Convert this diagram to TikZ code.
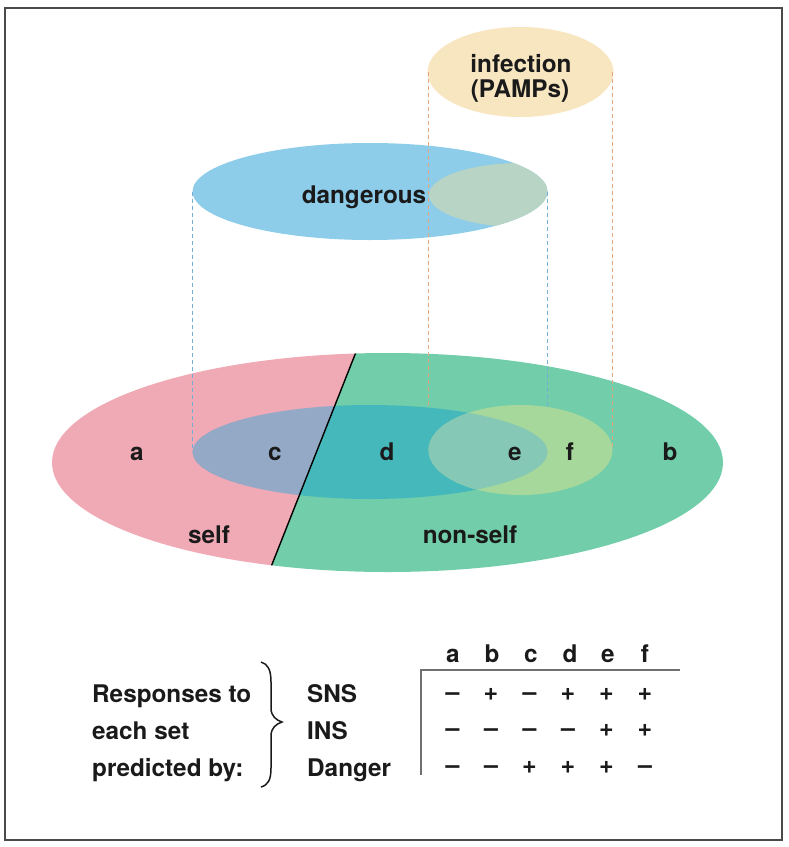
\documentclass[tikz,border=0pt]{standalone}
\usepackage{fontspec}
\setmainfont{TeX Gyre Heros}
\definecolor{framec}{HTML}{4A4A4A}
\definecolor{txt}{HTML}{1A1A1A}
\definecolor{infc}{HTML}{F8E6C0}
\definecolor{dangc}{HTML}{8DCDEA}
\definecolor{ovc}{HTML}{B7D4C4}
\definecolor{pinkc}{HTML}{F0AAB6}
\definecolor{greenc}{HTML}{72CDAA}
\definecolor{bluepink}{HTML}{93A9C6}
\definecolor{bluegreen}{HTML}{45B8BC}
\definecolor{yellowc}{HTML}{A6D79B}
\definecolor{yelblue}{HTML}{86C8B6}
\definecolor{dashblue}{HTML}{74AED3}
\definecolor{dashorange}{HTML}{E3A57E}
\definecolor{tabc}{HTML}{707070}
\begin{document}
\begin{tikzpicture}[x=1pt,y=-1pt,
  lbl/.style={font=\fontsize{24.3}{28}\selectfont\bfseries, text=txt, inner sep=0pt},
  sgn/.style={font=\fontsize{25}{28}\selectfont\bfseries, text=txt, inner sep=0pt, anchor=base},
  guide/.style={line width=1.2pt, dash pattern=on 4pt off 3pt},
  tabline/.style={draw=tabc, line width=1.3pt}]
\useasboundingbox (0,0) rectangle (789,847);
\draw[framec, line width=2pt] (5,8) rectangle (782,840);

% top ellipses
\fill[infc] (520.5,72) ellipse [x radius=93pt, y radius=45pt];
\fill[dangc] (370,191.5) ellipse [x radius=177.5pt, y radius=48.5pt];
\begin{scope}
  \clip (370,191.5) ellipse [x radius=177.5pt, y radius=48.5pt];
  \fill[ovc] (521,195) ellipse [x radius=92pt, y radius=32pt];
\end{scope}

% big ellipse: self / non-self
\begin{scope}
  \clip (387.5,462.5) ellipse [x radius=335.5pt, y radius=109.5pt];
  \fill[pinkc] (0,300) -- (376.6,300) -- (250,620) -- (0,620) -- cycle;
  \fill[greenc] (376.6,300) -- (800,300) -- (800,620) -- (250,620) -- cycle;
\end{scope}

% projection guides
\coordinate (dW) at (192.5,191.5);
\coordinate (dE) at (547.5,191.5);
\coordinate (iW) at (428.5,72);
\coordinate (iE) at (612.5,72);
\coordinate (bW) at (192.5,452);
\coordinate (bE) at (547.5,452);
\coordinate (yW) at (428.5,450);
\coordinate (yE) at (612.5,450);
\draw[guide, dashblue] (dW) -- (bW);
\draw[guide, dashblue] (dE) -- (bE);
\draw[guide, dashorange] (iW) -- (yW);
\draw[guide, dashorange] (iE) -- (yE);

% inner ellipses
\begin{scope}
  \clip (0,300) -- (376.6,300) -- (250,620) -- (0,620) -- cycle;
  \fill[bluepink] (370,452) ellipse [x radius=177.5pt, y radius=47pt];
\end{scope}
\begin{scope}
  \clip (376.6,300) -- (800,300) -- (800,620) -- (250,620) -- cycle;
  \fill[bluegreen] (370,452) ellipse [x radius=177.5pt, y radius=47pt];
\end{scope}
\fill[yellowc] (520.5,450) ellipse [x radius=92pt, y radius=45pt];
\begin{scope}
  \clip (370,452) ellipse [x radius=177.5pt, y radius=47pt];
  \fill[yelblue] (520.5,450) ellipse [x radius=92pt, y radius=45pt];
\end{scope}

% divider
\begin{scope}
  \clip (387.5,462.5) ellipse [x radius=335.5pt, y radius=109.5pt];
  \coordinate (divT) at (376.6,300);
  \coordinate (divB) at (250,620);
  \draw[black, line width=1.4pt] (divT) -- (divB);
\end{scope}

% labels
\node[lbl, anchor=base] (tinf) at (521,72) {infection};
\node[lbl, anchor=base] (tpamp) at (520,97) {(PAMPs)};
\node[lbl, anchor=base] (tdang) at (364,203) {dangerous};
\node[lbl, anchor=base] (la) at (137,460) {a};
\node[lbl, anchor=base] (lc) at (275,460) {c};
\node[lbl, anchor=base] (ld) at (387,460) {d};
\node[lbl, anchor=base] (le) at (515,460) {e};
\node[lbl, anchor=base] (lf) at (570,460) {f};
\node[lbl, anchor=base] (lb) at (670,460) {b};
\node[lbl, anchor=base] (lself) at (209,543) {self};
\node[lbl, anchor=base] (lnon) at (470,543) {non-self};

% legend text
\node[lbl, anchor=base west] (r1) at (92,702) {Responses to};
\node[lbl, anchor=base west] (r2) at (92,739) {each set};
\node[lbl, anchor=base west] (r3) at (92,776) {predicted by:};
\draw[txt, line width=1.5pt] (261,662) .. controls (268,664) and (271,670) .. (271,682)
  -- (271,708) .. controls (271,716) and (276,720) .. (282,722)
  .. controls (276,724) and (271,728) .. (271,736)
  -- (271,768) .. controls (271,780) and (268,785) .. (261,787);
\node[lbl, anchor=base west] (sns) at (307,702) {SNS};
\node[lbl, anchor=base west] (ins) at (307,739) {INS};
\node[lbl, anchor=base west] (dgr) at (307,776) {Danger};

% table
\coordinate (tc) at (421,670);
\coordinate (tr) at (680,670);
\coordinate (tb) at (421,775);
\draw[tabline] (tr) -- (tc) -- (tb);
\foreach \l/\x in {a/453,b/492,c/531,d/570,e/608,f/645}
  \node[lbl, anchor=base] (h\l) at (\x,662) {\l};
\foreach \s [count=\i] in {–,+,–,+,+,+}
  \node[sgn] (s1\i) at ({414+38.5*\i},700) {\s};
\foreach \s [count=\i] in {–,–,–,–,+,+}
  \node[sgn] (s2\i) at ({414+38.5*\i},736) {\s};
\foreach \s [count=\i] in {–,–,+,+,+,–}
  \node[sgn] (s3\i) at ({414+38.5*\i},773) {\s};
\end{tikzpicture}
\end{document}
